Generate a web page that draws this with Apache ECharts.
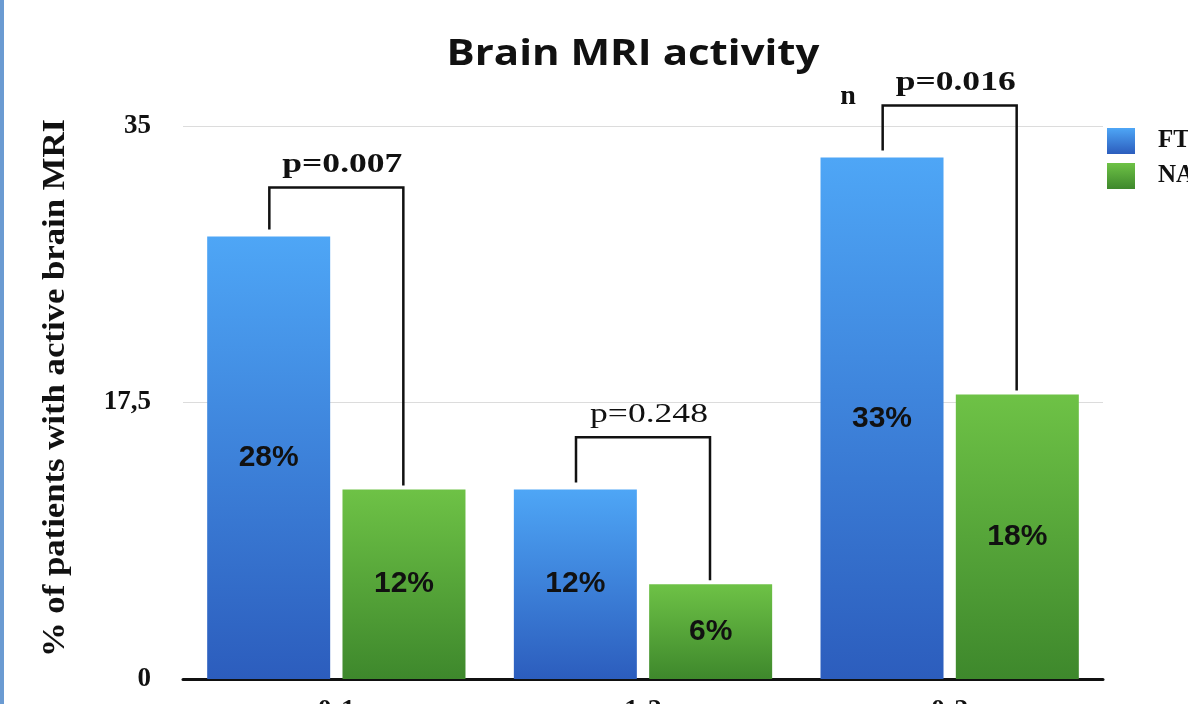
<!DOCTYPE html>
<html><head><meta charset="utf-8">
<script src="https://cdn.jsdelivr.net/npm/echarts@6/dist/echarts.min.js"></script>
<style>html,body{margin:0;padding:0;background:#fff}#c{width:1188px;height:704px}</style>
</head><body><div id="c"></div>
<script>
const categories = ['0-1', '1-2', '0-2'];
const seriesNames = ['FTY', 'NAT'];
const ftyValues = [28, 12, 33];
const natValues = [12, 6, 18];
const yTicks = [0, 17.5, 35];
const pLabels = ['p=0.007', 'p=0.248', 'p=0.016'];
const pBold = [true, false, true];
const bracketTop = [31.1, 15.3, 36.3];
const titleText = 'Brain MRI activity';
const yAxisName = '% of patients with active brain MRI';

const chart = echarts.init(document.getElementById('c'));
const serif = '"Liberation Serif", "DejaVu Serif", serif';
const BAR_W = 123, HALF = 67;

function grad(top, bottom) {
  return new echarts.graphic.LinearGradient(0, 0, 0, 1, [{offset: 0, color: top}, {offset: 1, color: bottom}]);
}

const bracketData = categories.map((c, i) => [i, ftyValues[i], natValues[i], bracketTop[i]]);
const barLabel = {show: true, position: 'inside', formatter: '{c}%', fontFamily: '"Liberation Sans", Arial, sans-serif',
  fontWeight: 'bold', fontSize: 30, color: '#111'};

chart.setOption({
  animation: false,
  legend: {
    orient: 'vertical', left: 1107, top: 128, itemWidth: 28, itemHeight: 26, itemGap: 9, padding: 0,
    icon: 'rect',
    data: seriesNames,
    textStyle: {fontFamily: serif, fontWeight: 'bold', fontSize: 25, color: '#111', padding: [0, 0, 0, 18]}
  },
  grid: {left: 183, right: 85, top: 126, bottom: 25, containLabel: false, outerBoundsMode: 'none'},
  xAxis: {
    type: 'category', data: categories,
    axisLine: {lineStyle: {color: '#111', width: 3}},
    axisTick: {show: false},
    axisLabel: {margin: 18, fontFamily: serif, fontWeight: 'bold', fontSize: 28, color: '#111'}
  },
  yAxis: {
    type: 'value', min: 0, max: 35, interval: 17.5,
    axisLine: {show: false}, axisTick: {show: false},
    axisLabel: {margin: 32, fontFamily: serif, fontWeight: 'bold', fontSize: 27, color: '#111',
      formatter: v => String(v).replace('.', ',')},
    splitLine: {lineStyle: {color: '#dcdcdc', width: 1}}
  },
  series: [
    {
      name: seriesNames[0], type: 'bar', data: ftyValues, barWidth: BAR_W, barGap: '10%',
      itemStyle: {color: grad('#4ea6f6', '#2c5dbd')}, label: barLabel
    },
    {
      name: seriesNames[1], type: 'bar', data: natValues, barWidth: BAR_W,
      itemStyle: {color: grad('#6ec246', '#3e882c')}, label: barLabel
    },
    {
      type: 'custom', data: bracketData, z: 5, silent: true,
      encode: {x: 0, y: [1, 2, 3]},
      renderItem: function (params, api) {
        const c = api.value(0);
        const pL = api.coord([c, api.value(1)]);
        const pR = api.coord([c, api.value(2)]);
        const pT = api.coord([c, api.value(3)]);
        const xl = pL[0] - HALF, xr = pL[0] + HALF;
        const i = params.dataIndex;
        return {
          type: 'group',
          children: [
            {type: 'polyline', shape: {points: [[xl, pL[1] - 7], [xl, pT[1]], [xr, pT[1]], [xr, pR[1] - 4]]},
              style: {stroke: '#111', lineWidth: 2.5, fill: null}},
            {type: 'text', x: pL[0] + 6, y: pT[1] - 23, scaleX: 1.27,
              style: {text: pLabels[i], textAlign: 'center', textVerticalAlign: 'middle',
                font: (pBold[i] ? 'bold ' : '') + '28px ' + serif, fill: '#111'}}
          ]
        };
      }
    }
  ],
  graphic: [
    {type: 'rect', left: 0, top: 0, shape: {width: 4, height: 704}, style: {fill: '#6b9bd2'}},
    {type: 'text', x: 633, y: 55, scaleX: 1.2,
      style: {text: titleText, textAlign: 'center', textVerticalAlign: 'middle',
        font: 'bold 35px "Open Sans", sans-serif', fill: '#111'}},
    {type: 'text', x: 56, y: 388, rotation: Math.PI / 2, scaleX: 1.12,
      style: {text: yAxisName, textAlign: 'center', textVerticalAlign: 'middle',
        font: 'bold 31px ' + serif, fill: '#111'}},
    {type: 'text', x: 848, y: 97, style: {text: 'n', textAlign: 'center', textVerticalAlign: 'middle',
      font: 'bold 28px ' + serif, fill: '#111'}}
  ]
});
</script></body></html>
